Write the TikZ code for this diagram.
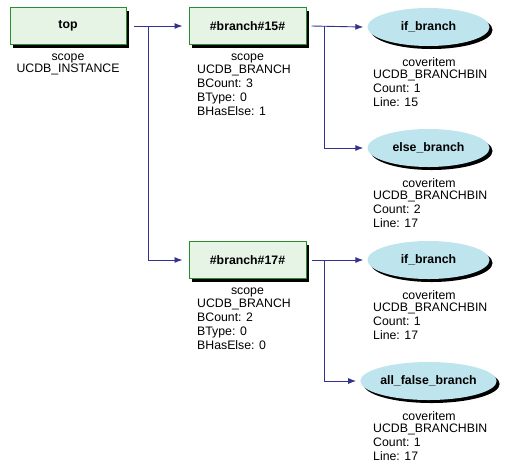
\documentclass[tikz,border=0pt]{standalone}
\usepackage{fontspec}
\setmainfont{Liberation Sans}
\usetikzlibrary{arrows.meta,shapes.geometric,shadows}
\definecolor{boxfill}{HTML}{E6F4E6}
\definecolor{boxline}{HTML}{2A8C2A}
\definecolor{ellfill}{HTML}{BEE4EE}
\definecolor{conn}{HTML}{33338F}
\begin{document}
\begin{tikzpicture}[x=1pt,y=-1pt,
  scopebox/.style={draw=boxline, fill=boxfill, line width=1pt, minimum width=116pt, minimum height=37pt, inner sep=0pt,
    font=\fontsize{12.3}{14}\selectfont\bfseries,
    drop shadow={shadow xshift=3pt, shadow yshift=-3pt, fill=black, opacity=1}},
  binell/.style={ellipse, fill=ellfill, minimum width=122pt, minimum height=38pt, inner sep=0pt,
    font=\fontsize{12.3}{14}\selectfont\bfseries,
    drop shadow={shadow xshift=3pt, shadow yshift=-3pt, fill=black, opacity=1}},
  hdr/.style={font=\fontsize{12.3}{14}\selectfont, inner sep=0pt, anchor=base},
  lbl/.style={font=\fontsize{12.3}{14}\selectfont, inner sep=0pt, anchor=base west},
  arr/.style={draw=conn, line width=0.9pt, -{Latex[length=8pt,width=6pt]}}
]
\useasboundingbox (0,0) rectangle (516,467);

% nodes
\node[scopebox] (top) at (68,26) {top};
\node[scopebox, minimum width=117pt] (b15) at (247.5,26) {\#branch\#15\#};
\node[scopebox, minimum width=117pt] (b17) at (247.5,260) {\#branch\#17\#};
\node[binell] (if1) at (428.5,27) {if\_branch};
\node[binell] (els) at (428.5,148) {else\_branch};
\node[binell] (if2) at (428.5,260) {if\_branch};
\node[binell] (alf) at (428.5,381) {all\_false\_branch};

% labels top
\node[hdr] (t1) at (68,60) {scope};
\node[hdr] (t2) at (68,72) {UCDB\_INSTANCE};
% labels b15
\node[hdr] (a1) at (247.5,60) {scope};
\node[lbl] (a2) at (197,73) {UCDB\_BRANCH};
\node[lbl] (a3) at (197,87) {BCount: 3};
\node[lbl] (a4) at (197,101) {BType: 0};
\node[lbl] (a5) at (197,115) {BHasElse: 1};
% labels b17
\node[hdr] (c1) at (247.5,294) {scope};
\node[lbl] (c2) at (197,307) {UCDB\_BRANCH};
\node[lbl] (c3) at (197,321) {BCount: 2};
\node[lbl] (c4) at (197,335) {BType: 0};
\node[lbl] (c5) at (197,349) {BHasElse: 0};
% labels if1
\node[hdr] (d1) at (429,66) {coveritem};
\node[lbl] (d2) at (373,78) {UCDB\_BRANCHBIN};
\node[lbl] (d3) at (373,92) {Count: 1};
\node[lbl] (d4) at (373,106) {Line: 15};
% labels else
\node[hdr] (e1) at (429,187) {coveritem};
\node[lbl] (e2) at (373,199) {UCDB\_BRANCHBIN};
\node[lbl] (e3) at (373,213) {Count: 2};
\node[lbl] (e4) at (373,227) {Line: 17};
% labels if2
\node[hdr] (f1) at (429,299) {coveritem};
\node[lbl] (f2) at (373,311) {UCDB\_BRANCHBIN};
\node[lbl] (f3) at (373,325) {Count: 1};
\node[lbl] (f4) at (373,339) {Line: 17};
% labels all false
\node[hdr] (g1) at (429,420) {coveritem};
\node[lbl] (g2) at (373,432) {UCDB\_BRANCHBIN};
\node[lbl] (g3) at (373,446) {Count: 1};
\node[lbl] (g4) at (373,460) {Line: 17};

% connectors
\draw[arr] ([xshift=7pt]top.east) -- ([xshift=-6pt]b15.west);
\draw[arr] ([xshift=22pt]top.east) |- ([xshift=-6pt]b17.west);
\draw[arr] ([xshift=5pt]b15.east) -- ([xshift=-4pt]if1.west);
\draw[arr] ([xshift=18pt]b15.east) |- ([xshift=-4pt]els.west);
\draw[arr] ([xshift=5pt]b17.east) -- ([xshift=-4pt]if2.west);
\draw[arr] ([xshift=18pt]b17.east) |- ([xshift=-4pt]alf.west);
\end{tikzpicture}
\end{document}
